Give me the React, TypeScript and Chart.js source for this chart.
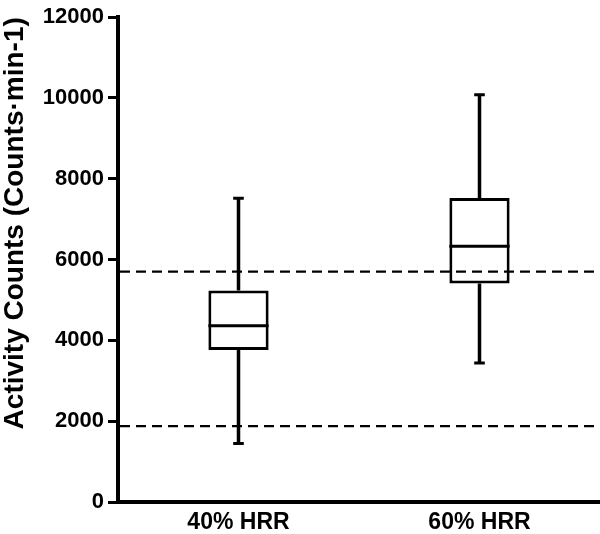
import React, { useEffect, useRef } from "react";
import { Chart, registerables } from "chart.js";

Chart.register(...registerables);

const categories = ["40% HRR", "60% HRR"];
const mins = [1450, 3440];
const q1s = [3760, 5410];
const medians = [4360, 6330];
const q3s = [5235, 7525];
const maxs = [7520, 10080];
const refLines = [5700, 1880];
const yTicks = [0, 2000, 4000, 6000, 8000, 10000, 12000];

const FONT = "'Liberation Sans', Arial, Helvetica, sans-serif";

const boxPlugin = {
  id: "boxExtras",
  afterDatasetsDraw(chart: any) {
    const { ctx, chartArea, scales } = chart;
    const x = scales.x;
    const y = scales.y;
    const step = x.getPixelForValue(1) - x.getPixelForValue(0);
    const capHalf = step * 0.022;
    const boxHalf = step * 0.125;
    ctx.save();
    ctx.strokeStyle = "#000";
    ctx.lineCap = "butt";
    categories.forEach((_, i) => {
      const cx = x.getPixelForValue(i);
      const yMin = y.getPixelForValue(mins[i]);
      const yQ1 = y.getPixelForValue(q1s[i]);
      const yMed = y.getPixelForValue(medians[i]);
      const yQ3 = y.getPixelForValue(q3s[i]);
      const yMax = y.getPixelForValue(maxs[i]);
      ctx.lineWidth = 3.5;
      ctx.beginPath();
      ctx.moveTo(cx, yQ3);
      ctx.lineTo(cx, yMax);
      ctx.moveTo(cx, yQ1);
      ctx.lineTo(cx, yMin);
      ctx.stroke();
      ctx.lineWidth = 3;
      ctx.beginPath();
      ctx.moveTo(cx - capHalf, yMax);
      ctx.lineTo(cx + capHalf, yMax);
      ctx.moveTo(cx - capHalf, yMin);
      ctx.lineTo(cx + capHalf, yMin);
      ctx.moveTo(cx - boxHalf, yMed);
      ctx.lineTo(cx + boxHalf, yMed);
      ctx.stroke();
    });
    ctx.lineWidth = 2.3;
    ctx.setLineDash([10, 6]);
    refLines.forEach((v) => {
      const py = y.getPixelForValue(v);
      ctx.beginPath();
      ctx.moveTo(chartArea.left + 2, py);
      ctx.lineTo(chartArea.right, py);
      ctx.stroke();
    });
    ctx.restore();
  },
};

export default function App() {
  const ref = useRef<HTMLCanvasElement | null>(null);
  useEffect(() => {
    if (!ref.current) return;
    const chart = new Chart(ref.current, {
      type: "bar",
      data: {
        labels: categories,
        datasets: [
          {
            data: categories.map((_, i) => [q1s[i], q3s[i]]) as any,
            backgroundColor: "#fff",
            borderColor: "#000",
            borderWidth: 3,
            borderSkipped: false,
            categoryPercentage: 1,
            barPercentage: 0.25,
          },
        ],
      },
      options: {
        responsive: false,
        animation: false,
        devicePixelRatio: 1,
        layout: { padding: { left: 0, right: 0, top: 13, bottom: 0 } },
        plugins: { legend: { display: false }, tooltip: { enabled: false } },
        scales: {
          x: {
            type: "category",
            offset: true,
            grid: { display: false, drawTicks: false },
            border: { display: true, color: "#000", width: 4 },
            ticks: {
              color: "#000",
              padding: 7,
              font: { family: FONT, size: 23, weight: "bold" },
            },
            afterFit(scale: any) {
              scale.height = 32;
            },
          },
          y: {
            min: 0,
            max: 12000,
            afterBuildTicks(scale: any) {
              scale.ticks = yTicks.map((v) => ({ value: v }));
            },
            grid: {
              drawOnChartArea: false,
              drawTicks: true,
              tickLength: 10,
              tickWidth: 3,
              tickColor: "#000",
            },
            border: { display: true, color: "#000", width: 4 },
            ticks: {
              color: "#000",
              padding: 4,
              font: { family: FONT, size: 22, weight: "bold" },
              callback: (v: any) => String(v),
            },
            title: {
              display: true,
              text: "Activity Counts (Counts·min-1)",
              color: "#000",
              align: "end",
              padding: { top: 1, bottom: 0 },
              font: { family: FONT, size: 28, weight: "bold", lineHeight: 1 },
            },
            afterFit(scale: any) {
              scale.width = 118;
            },
          },
        },
      },
      plugins: [boxPlugin],
    });
    return () => chart.destroy();
  }, []);
  return (
    <div style={{ position: "absolute", left: 0, top: 0, width: 600, height: 534, background: "#fff" }}>
      <canvas ref={ref} width={600} height={534} />
    </div>
  );
}
